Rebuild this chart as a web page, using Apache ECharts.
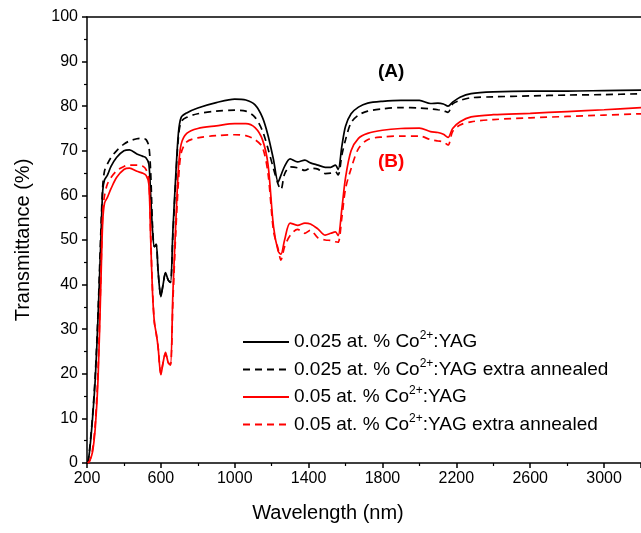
<!DOCTYPE html>
<html>
<head>
<meta charset="utf-8">
<script src="https://cdn.jsdelivr.net/npm/echarts@6/dist/echarts.min.js"></script>
<style>
  html, body { margin: 0; padding: 0; background: #fff; }
  #chart { width: 641px; height: 533px; }
</style>
</head>
<body>
<div id="chart"></div>
<script>
// wavelength grid (nm), shared by all four spectra
var wavelength = [205, 215, 230, 245, 260, 275, 285, 295, 310, 330, 360, 400, 430, 470, 500, 520, 535, 545, 555, 565,
    575, 585, 600, 612, 625, 640, 652, 665, 680, 695, 710, 740, 800, 900, 1000, 1060, 1110, 1150, 1180, 1210,
    1235, 1250, 1270, 1300, 1340, 1380, 1410, 1450, 1490, 1520, 1545, 1560, 1580, 1600, 1630, 1670, 1720, 1800, 1900, 2000,
    2060, 2100, 2130, 2155, 2180, 2220, 2280, 2400, 2600, 2800, 3000, 3200];

// transmittance (%)
var t025 = [0, 3, 10, 19, 33, 50, 61, 63.5, 64.5, 66.5, 68.5, 70, 70.2, 69.3, 68.8, 68.4, 67, 60, 52, 48.5,
    49, 43, 37.3, 40, 42.7, 41, 40.5, 52, 64, 74, 77.5, 78.5, 79.6, 80.8, 81.6, 81.4, 80.3, 77.5, 73.5, 68,
    63, 64.5, 66.5, 68.2, 67.5, 67.9, 67.3, 66.8, 66.3, 66.3, 66.8, 65.8, 71, 75.5, 78.3, 79.8, 80.7, 81.1, 81.3, 81.3,
    80.6, 80.7, 80.5, 80.0, 80.9, 82, 82.8, 83.2, 83.4, 83.4, 83.5, 83.6];
var t025ann = [0, 3.5, 10.5, 20, 34, 52, 62, 65.5, 67, 68.5, 70, 71.5, 72.2, 72.7, 72.8, 72.5, 71, 65, 53, 48.5,
    49, 43, 37.5, 40, 42.5, 41, 40.5, 51, 63, 73, 76.5, 77.5, 78.3, 78.9, 79.1, 78.9, 77.5, 74.5, 70.5, 66,
    62.5, 61.3, 64.8, 66.4, 66.2, 65.6, 66.1, 65.9, 64.9, 65, 65.3, 64.6, 69, 72.5, 76.3, 78, 78.9, 79.4, 79.7, 79.6,
    79.4, 79.2, 79.0, 78.6, 80.5, 81.3, 81.9, 82.1, 82.3, 82.5, 82.6, 82.8];
var t05 = [0, 0.5, 2.5, 8, 19, 40, 54, 58.3, 59.5, 61.5, 64, 65.8, 66.1, 65.4, 65, 64.5, 62.5, 50, 38, 31.5,
    29, 26, 19.8, 22.5, 24.8, 22.5, 22, 38, 53, 66, 71.5, 73.9, 75, 75.6, 76.1, 76.1, 75.2, 72.5, 67, 53,
    47.5, 46.8, 50, 53.8, 53.3, 53.8, 53.6, 52.5, 51.1, 51.5, 51.8, 51, 57, 64, 70, 72.8, 73.9, 74.6, 75, 75.1,
    74.3, 74.1, 73.7, 73.0, 75, 76.5, 77.6, 78.1, 78.4, 78.8, 79.2, 79.7];
var t05ann = [0, 0.5, 3, 9, 21, 42, 56, 60, 62.5, 64, 65.5, 66.5, 66.8, 66.8, 66.6, 65.8, 63.5, 51, 38.5, 31.5,
    29, 26, 20, 22.5, 24.5, 22.5, 22, 36, 51, 63, 69.5, 72, 72.9, 73.4, 73.6, 73.4, 72.5, 70.8, 65, 52,
    48, 45.5, 48.5, 51, 52.4, 51.5, 52.2, 50.5, 50, 49.9, 49.6, 49.5, 55, 61.5, 66, 70.5, 72.5, 73.1, 73.3, 73.3,
    72.5, 72.2, 72.0, 71.3, 74.3, 75.8, 76.5, 77, 77.4, 77.7, 78, 78.3];

var seriesNames = ['0.025 at. % Co2+:YAG', '0.025 at. % Co2+:YAG extra annealed',
    '0.05 at. % Co2+:YAG', '0.05 at. % Co2+:YAG extra annealed'];

var FONT = 'Liberation Sans, Arial, sans-serif';

function pairs(ys) {
    return wavelength.map(function (w, i) { return [w, ys[i]]; });
}

function lineSeries(name, ys, color, dashed) {
    return {
        name: name,
        type: 'line',
        data: pairs(ys),
        symbol: 'none',
        smooth: 0.3,
        animation: false,
        lineStyle: { color: color, width: 1.7, type: dashed ? [7, 5] : 'solid' },
        itemStyle: { color: color, opacity: 0 }
    };
}

var myChart = echarts.init(document.getElementById('chart'));

var option = {
    backgroundColor: '#fff',
    animation: false,
    grid: { left: 87, top: 17, right: 0, bottom: 70 },
    legend: {
        orient: 'vertical',
        left: 237,
        top: 325,
        itemWidth: 46,
        itemHeight: 14,
        itemGap: 6,
        data: seriesNames,
        itemStyle: { opacity: 0 },
        formatter: function (name) {
            var parts = name.split('2+');
            return '{t|' + parts[0] + '}{s|2+}{t|' + parts[1] + '}';
        },
        textStyle: {
            color: '#000',
            fontFamily: FONT,
            rich: {
                t: { fontSize: 19, fontFamily: FONT, color: '#000', lineHeight: 19 },
                s: { fontSize: 12, fontFamily: FONT, color: '#000', padding: [0, 0, 12, 0] }
            }
        }
    },
    xAxis: [{
        type: 'value',
        min: 200,
        max: 3200,
        interval: 400,
        name: 'Wavelength (nm)',
        nameLocation: 'middle',
        nameGap: 40,
        nameTextStyle: { fontSize: 20, fontFamily: FONT, color: '#000', padding: [0, 72, 0, 0] },
        axisLine: { lineStyle: { color: '#000', width: 1.5 } },
        axisTick: { length: 5, lineStyle: { color: '#000', width: 1.5 } },
        minorTick: { show: true, splitNumber: 2, length: 3, lineStyle: { color: '#000', width: 1.2 } },
        splitLine: { show: false },
        axisLabel: {
            fontSize: 16, fontFamily: FONT, color: '#000', margin: 8, showMaxLabel: false,
            formatter: function (v) { return String(v); }
        }
    }, {
        type: 'value',
        position: 'top',
        min: 200,
        max: 3200,
        axisLine: { show: true, lineStyle: { color: '#000', width: 1.5 } },
        axisTick: { show: false },
        axisLabel: { show: false },
        splitLine: { show: false }
    }],
    yAxis: {
        type: 'value',
        min: 0,
        max: 100,
        interval: 10,
        name: 'Transmittance (%)',
        nameLocation: 'middle',
        nameGap: 54,
        nameTextStyle: { fontSize: 20, fontFamily: FONT, color: '#000' },
        axisLine: { show: true, lineStyle: { color: '#000', width: 1.5 } },
        axisTick: { show: true, length: 5, lineStyle: { color: '#000', width: 1.5 } },
        minorTick: { show: true, splitNumber: 2, length: 3, lineStyle: { color: '#000', width: 1.2 } },
        splitLine: { show: false },
        axisLabel: { fontSize: 16, fontFamily: FONT, color: '#000', margin: 9 }
    },
    graphic: [
        { type: 'text', left: 378, top: 62, style: { text: '(A)', fill: '#000', font: 'bold 19px ' + FONT } },
        { type: 'text', left: 378, top: 152, style: { text: '(B)', fill: '#ff0000', font: 'bold 19px ' + FONT } }
    ],
    series: [
        lineSeries(seriesNames[0], t025, '#000', false),
        lineSeries(seriesNames[1], t025ann, '#000', true),
        lineSeries(seriesNames[2], t05, '#ff0000', false),
        lineSeries(seriesNames[3], t05ann, '#ff0000', true)
    ]
};

myChart.setOption(option);
</script>
</body>
</html>
